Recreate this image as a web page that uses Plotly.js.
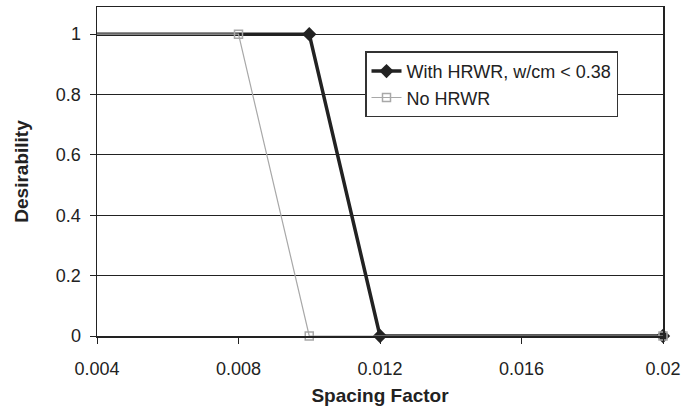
<!DOCTYPE html>
<html><head><meta charset="utf-8">
<script src="https://cdn.plot.ly/plotly-3.0.1.min.js"></script>
<style>body{margin:0;padding:0;background:#fff}#chart{width:683px;height:417px}</style>
</head><body><div id="chart"></div>
<script>
const spacingWith = [0, 0.010, 0.012, 0.020];
const desirWith = [1, 1, 0, 0];
const spacingNo = [0, 0.008, 0.010, 0.020];
const desirNo = [1, 1, 0, 0];
const nameWith = "With HRWR, w/cm < 0.38";
const nameNo = "No HRWR";
const xTicks = [0.004, 0.008, 0.012, 0.016, 0.02];
const xTickText = ["0.004", "0.008", "0.012", "0.016", "0.02"];
const yTicks = [0, 0.2, 0.4, 0.6, 0.8, 1];
const yTickText = ["0", "0.2", "0.4", "0.6", "0.8", "1"];

const traces = [
  {x: spacingWith, y: desirWith, name: nameWith, mode: "lines+markers", cliponaxis: false,
   line: {color: "#222222", width: 3.5},
   marker: {symbol: "diamond", size: 11, color: "#222222"}},
  {x: spacingNo, y: desirNo, name: nameNo, mode: "lines+markers", cliponaxis: false,
   line: {color: "#a8a8a8", width: 1.2},
   marker: {symbol: "square-open", size: 8, color: "#a8a8a8", line: {width: 1.5}}}
];
const layout = {
  width: 683, height: 417,
  margin: {l: 97, r: 20, t: 7, b: 81},
  paper_bgcolor: "#fff", plot_bgcolor: "#fff",
  font: {family: "Liberation Sans, Arial, sans-serif", size: 18, color: "#222"},
  showlegend: true,
  legend: {x: 0.4735, y: 0.865, xanchor: "left", yanchor: "top", bgcolor: "#fff",
    bordercolor: "#333", borderwidth: 1.5, traceorder: "normal",
    font: {size: 18, color: "#222"}},
  xaxis: {range: [0.004, 0.02], tickvals: xTicks, ticktext: xTickText,
    showgrid: false, zeroline: false, showline: true, linecolor: "#222", linewidth: 1.5,
    mirror: true, ticks: "outside", ticklen: 6, tickcolor: "#222", ticklabelstandoff: 10,
    title: {text: "<b>Spacing Factor</b>", font: {size: 19}, standoff: 10}},
  yaxis: {range: [0, 1.09], tickvals: yTicks, ticktext: yTickText,
    showgrid: true, gridcolor: "#222", gridwidth: 1, zeroline: false,
    showline: true, linecolor: "#222", linewidth: 1.5, mirror: true,
    ticks: "outside", ticklen: 6, tickcolor: "#222", ticklabelstandoff: 5,
    title: {text: "<b>Desirability</b>", font: {size: 19}, standoff: 22}}
};
Plotly.newPlot("chart", traces, layout, {displayModeBar: false, staticPlot: true});
</script></body></html>
